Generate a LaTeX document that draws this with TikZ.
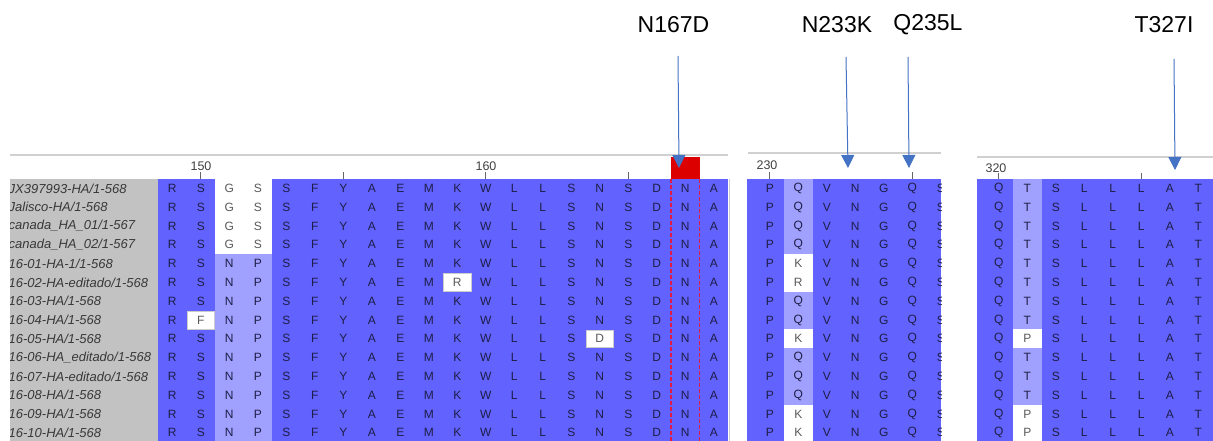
\documentclass[tikz,border=0pt]{standalone}
\usepackage{fontspec}
\setmainfont{Liberation Sans}
\usetikzlibrary{arrows.meta}

\definecolor{alnblue}{RGB}{98,98,255}
\definecolor{alnpale}{RGB}{160,160,255}
\definecolor{namegrey}{RGB}{194,194,194}
\definecolor{rulegrey}{RGB}{208,208,208}
\definecolor{mutred}{RGB}{221,0,0}
\definecolor{dashred}{RGB}{225,25,70}
\definecolor{arrowblue}{RGB}{68,114,196}
\definecolor{resink}{RGB}{30,30,70}

\tikzset{
  res/.style={font=\fontsize{12}{12}\selectfont, text=resink, inner sep=0pt},
  resodd/.style={font=\fontsize{12}{12}\selectfont, text=black!65, inner sep=0pt},
  oddcell/.style={resodd, fill=white, draw=black!20, line width=0.6pt,
    minimum width=27.5pt, minimum height=17.6pt},
  seqname/.style={font=\fontsize{13}{13}\selectfont\itshape, text=black!78,
    anchor=west, inner sep=0pt},
  mutlabel/.style={font=\fontsize{23}{23}\selectfont},
  mutarrow/.style={arrowblue, line width=1pt, -{Triangle[width=13pt,length=13pt]}},
  ruler/.style={rulegrey, line width=2pt},
  ticklabel/.style={font=\fontsize{12.5}{12.5}\selectfont, text=black!75, inner sep=0pt},
  tickmark/.style={black!60, line width=0.8pt},
}

\begin{document}
\begin{tikzpicture}[x=1pt,y=-1pt]
  \useasboundingbox (0,0) rectangle (1213,441);
  \clip (0,0) rectangle (1213,441);

  % block 1, positions 149-168
  \fill[namegrey] (10,179) rectangle (158,446);
  \fill[alnblue] (158,179) rectangle (728,446);
  \fill[white] (215,179) rectangle (272,254.2);
  \fill[alnpale] (215,254.2) rectangle (272,446);
  \draw[ruler] (10,155) -- (728,155);
  \draw[rulegrey, line width=1pt] (729.5,179) -- (729.5,441);
  \fill[mutred] (671,157) rectangle (699.5,179);

  \begin{scope}
    \clip (10,179) rectangle (158,446);
    \foreach \nm [count=\r] in {JX397993-HA/1-568, Jalisco-HA/1-568,
        canada\_HA\_01/1-567, canada\_HA\_02/1-567, 16-01-HA-1/1-568,
        16-02-HA-editado/1-568, 16-03-HA/1-568, 16-04-HA/1-568,
        16-05-HA/1-568, 16-06-HA\_editado/1-568, 16-07-HA-editado/1-568,
        16-08-HA/1-568, 16-09-HA/1-568, 16-10-HA/1-568}
      \node[seqname] (name\r) at (8.5,169.6+18.8*\r) {\nm};
  \end{scope}

  \node[ticklabel] (pos150) at (201,166) {150};
  \node[ticklabel] (pos160) at (486,166) {160};
  \foreach \c in {1,6,11,16}
    \draw[tickmark] (172.25+28.5*\c,172.5) -- (172.25+28.5*\c,179);

  \foreach \r in {1,...,14}{
    \foreach \c/\res in {0/R,1/S,4/S,5/F,6/Y,7/A,8/E,9/M,10/K,11/W,12/L,
        13/L,14/S,15/N,16/S,17/D,18/N,19/A}
      \node[res] (a\r-\c) at (172.25+28.5*\c,169.6+18.8*\r) {\res};
  }
  \foreach \r in {1,...,4}{
    \node[resodd] (a\r-2) at (229.25,169.6+18.8*\r) {G};
    \node[resodd] (a\r-3) at (257.75,169.6+18.8*\r) {S};
  }
  \foreach \r in {5,...,14}{
    \node[res] (a\r-2) at (229.25,169.6+18.8*\r) {N};
    \node[res] (a\r-3) at (257.75,169.6+18.8*\r) {P};
  }
  \node[oddcell] (oddF) at (200.75,320) {F};
  \node[oddcell] (oddR) at (457.25,282.4) {R};
  \node[oddcell] (oddD) at (599.75,338.8) {D};

  \draw[dashred, line width=1.2pt, dash pattern=on 3.5pt off 2.5pt] (671,179) -- (671,441);
  \draw[dashred, line width=1.2pt, dash pattern=on 3.5pt off 2.5pt] (699.5,179) -- (699.5,441);

  % block 2, positions 230-236
  \fill[alnblue] (747,179) rectangle (941,446);
  \fill[alnpale] (784,179) rectangle (812.5,446);
  \foreach \r in {5,6,9,13,14}
    \fill[white] (784,160.2+18.8*\r) rectangle (812.5,179+18.8*\r);
  \draw[ruler] (748,153) -- (941,153);
  \node[ticklabel] (pos230) at (767,165) {230};
  \foreach \c in {0,5}
    \draw[tickmark] (769.75+28.5*\c,172.5) -- (769.75+28.5*\c,179);
  \begin{scope}
    \clip (747,179) rectangle (941,446);
    \foreach \r in {1,...,14}{
      \foreach \c/\res in {0/P,2/V,3/N,4/G,5/Q,6/S}
        \node[res] (b\r-\c) at (769.75+28.5*\c,169.6+18.8*\r) {\res};
    }
    \foreach \r in {1,2,3,4,7,8,10,11,12}
      \node[res] (b\r-1) at (798.25,169.6+18.8*\r) {Q};
    \foreach \r/\res in {5/K,6/R,9/K,13/K,14/K}
      \node[resodd] (b\r-1) at (798.25,169.6+18.8*\r) {\res};
  \end{scope}

  % block 3, positions 320-327
  \fill[alnblue] (977,179) rectangle (1213,446);
  \fill[alnpale] (1013,179) rectangle (1041.5,446);
  \foreach \r in {9,13,14}
    \fill[white] (1013,160.2+18.8*\r) rectangle (1041.5,179+18.8*\r);
  \draw[ruler] (977,157) -- (1213,157);
  \node[ticklabel] (pos320) at (996,168) {320};
  \foreach \c in {0,5}
    \draw[tickmark] (998.75+28.5*\c,173.5) -- (998.75+28.5*\c,179);
  \foreach \r in {1,...,14}{
    \foreach \c/\res in {0/Q,2/S,3/L,4/L,5/L,6/A,7/T}
      \node[res] (c\r-\c) at (998.75+28.5*\c,169.6+18.8*\r) {\res};
  }
  \foreach \r in {1,...,8,10,11,12}
    \node[res] (c\r-1) at (1027.25,169.6+18.8*\r) {T};
  \foreach \r in {9,13,14}
    \node[resodd] (c\r-1) at (1027.25,169.6+18.8*\r) {P};

  % mutations
  \node[mutlabel] (N167D) at (673.5,25) {N167D};
  \node[mutlabel] (N233K) at (837,25) {N233K};
  \node[mutlabel] (Q235L) at (928,25) {Q235L};
  \node[mutlabel] (T327I) at (1164,25) {T327I};
  \coordinate (N167D-from) at (678,56);
  \coordinate (N167D-to) at (679,168);
  \coordinate (N233K-from) at (846,57);
  \coordinate (N233K-to) at (848,168);
  \coordinate (Q235L-from) at (908,57);
  \coordinate (Q235L-to) at (909,168);
  \coordinate (T327I-from) at (1174,59);
  \coordinate (T327I-to) at (1175,170);
  \draw[mutarrow] (N167D-from) -- (N167D-to);
  \draw[mutarrow] (N233K-from) -- (N233K-to);
  \draw[mutarrow] (Q235L-from) -- (Q235L-to);
  \draw[mutarrow] (T327I-from) -- (T327I-to);
\end{tikzpicture}
\end{document}
